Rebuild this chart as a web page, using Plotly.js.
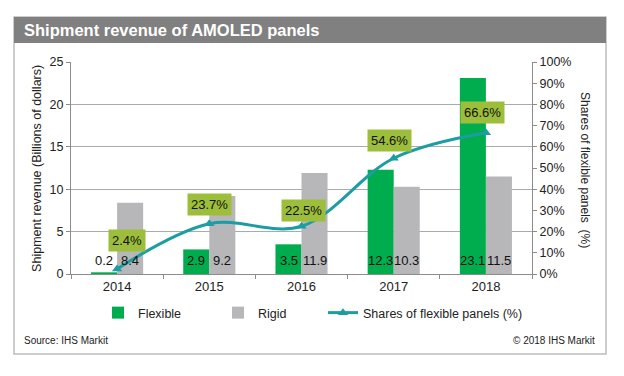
<!DOCTYPE html>
<html>
<head>
<meta charset="utf-8">
<script src="https://cdn.plot.ly/plotly-3.0.1.min.js"></script>
<style>
  html, body { margin: 0; padding: 0; background: #ffffff; }
  #chart { width: 624px; height: 376px; }
</style>
</head>
<body>
<div id="chart"></div>
<script>
// ---- data ----
const years = ['2014', '2015', '2016', '2017', '2018'];
const flexible = [0.2, 2.9, 3.5, 12.3, 23.1];
const rigid = [8.4, 9.2, 11.9, 10.3, 11.5];
const flexShare = [2.4, 23.7, 22.5, 54.6, 66.6]; // percent
const leftTicks = [0, 5, 10, 15, 20, 25];
const rightTicks = [0, 10, 20, 30, 40, 50, 60, 70, 80, 90, 100];

// ---- styles ----
const FONT = 'Liberation Sans, Arial, sans-serif';
const GREEN = '#00AD4E';
const GREY = '#B7B7B9';
const TEAL = '#1C9DA3';
const LABELBG = '#9DBE3A';
const AXIS = '#8C8C8C';
const shareLabelShift = [[10, 28], [0, 19], [2, 16], [-4, 18], [-3, 20]];

const traces = [
  { type: 'bar', name: 'Flexible', x: years, y: flexible, marker: { color: GREEN },
    legend: 'legend', hoverinfo: 'y' },
  { type: 'bar', name: 'Rigid', x: years, y: rigid, marker: { color: GREY },
    legend: 'legend2', hoverinfo: 'y' },
  { type: 'scatter', mode: 'lines+markers', name: 'Shares of flexible panels (%)',
    x: years, y: flexShare.map(v => v / 100), yaxis: 'y2', legend: 'legend3',
    line: { color: TEAL, width: 3, shape: 'spline', smoothing: 1.0 },
    marker: { symbol: 'triangle-up', size: 9, color: TEAL } }
];

const annotations = [];
// bar value labels (x given as category index)
years.forEach((yr, i) => {
  annotations.push({ x: i, y: 0, xref: 'x', yref: 'y', text: String(flexible[i]),
    showarrow: false, xshift: -13, yshift: 14, font: { family: FONT, size: 13, color: '#111' } });
  annotations.push({ x: i, y: 0, xref: 'x', yref: 'y', text: String(rigid[i]),
    showarrow: false, xshift: 13, yshift: 14, font: { family: FONT, size: 13, color: '#111' } });
  annotations.push({ x: i, y: flexShare[i] / 100, xref: 'x', yref: 'y2',
    text: flexShare[i].toFixed(1) + '%', showarrow: false,
    xshift: shareLabelShift[i][0], yshift: shareLabelShift[i][1],
    bgcolor: LABELBG, borderpad: 3,
    font: { family: FONT, size: 13, color: '#111' } });
});
// axis titles, title, source
annotations.push(
  { xref: 'paper', yref: 'paper', x: -0.074, y: 0.5, xanchor: 'center', yanchor: 'middle',
    text: 'Shipment revenue (Billions of dollars)',
    textangle: -90, showarrow: false, font: { family: FONT, size: 12.5, color: '#222' } },
  { xref: 'paper', yref: 'paper', x: 1.115, y: 0.49, xanchor: 'center', yanchor: 'middle',
    text: 'Shares of flexible panels  (%)',
    textangle: 90, showarrow: false, font: { family: FONT, size: 12, color: '#222' } },
  { xref: 'paper', yref: 'paper', x: -0.106, y: 1.151, xanchor: 'left', yanchor: 'middle',
    text: '<b>Shipment revenue of AMOLED panels</b>', showarrow: false,
    font: { family: FONT, size: 16.5, color: '#ffffff' } },
  { xref: 'paper', yref: 'paper', x: -0.106, y: -0.316, xanchor: 'left', yanchor: 'middle',
    text: 'Source: IHS Markit', showarrow: false, font: { family: FONT, size: 10, color: '#222' } },
  { xref: 'paper', yref: 'paper', x: 1.141, y: -0.316, xanchor: 'right', yanchor: 'middle',
    text: '© 2018 IHS Markit', showarrow: false, font: { family: FONT, size: 10, color: '#222' } }
);

const px = v => (v - 71) / 461;
const py = v => (274 - v) / 212;
const legendBase = { orientation: 'h', y: py(313), xanchor: 'left', yanchor: 'middle',
  font: { family: FONT, size: 12.5, color: '#222' }, bgcolor: 'rgba(0,0,0,0)' };

const layout = {
  width: 624, height: 376,
  margin: { l: 71, r: 92, t: 62, b: 102 },
  paper_bgcolor: '#ffffff', plot_bgcolor: '#ffffff',
  font: { family: FONT, size: 13, color: '#222' },
  barmode: 'group', bargap: 0.435, bargroupgap: 0,
  showlegend: true,
  legend: Object.assign({}, legendBase, { x: px(98) }),
  legend2: Object.assign({}, legendBase, { x: px(218) }),
  legend3: Object.assign({}, legendBase, { x: px(323) }),
  xaxis: { type: 'category', range: [-0.5, 4.5], showline: true, linecolor: AXIS, linewidth: 1,
    ticks: 'outside', tickson: 'boundaries', ticklen: 4, tickcolor: AXIS,
    tickfont: { family: FONT, size: 13, color: '#222' }, showgrid: false, zeroline: false },
  yaxis: { range: [0, 25], tickvals: leftTicks, showline: true, linecolor: AXIS,
    ticks: 'outside', ticklen: 4, tickcolor: AXIS, showgrid: true, gridcolor: '#ABABAB',
    gridwidth: 1, zeroline: false, tickfont: { family: FONT, size: 12.5, color: '#222' } },
  yaxis2: { overlaying: 'y', side: 'right', range: [0, 1],
    tickvals: rightTicks.map(v => v / 100), ticktext: rightTicks.map(v => v + '%'),
    showline: true, linecolor: AXIS, ticks: 'outside', ticklen: 4, tickcolor: AXIS,
    showgrid: false, zeroline: false, tickfont: { family: FONT, size: 12.5, color: '#222' } },
  shapes: [
    { type: 'rect', xref: 'paper', yref: 'paper', x0: px(14), x1: px(606), y0: py(354), y1: py(17),
      line: { color: '#BDBDBD', width: 1.5 }, fillcolor: 'rgba(0,0,0,0)', layer: 'below' },
    { type: 'rect', xref: 'paper', yref: 'paper', x0: px(14), x1: px(606), y0: py(43), y1: py(17),
      line: { width: 0 }, fillcolor: '#808080', layer: 'below' }
  ],
  annotations: annotations
};

Plotly.newPlot('chart', traces, layout, { displayModeBar: false, staticPlot: true });
</script>
</body>
</html>
